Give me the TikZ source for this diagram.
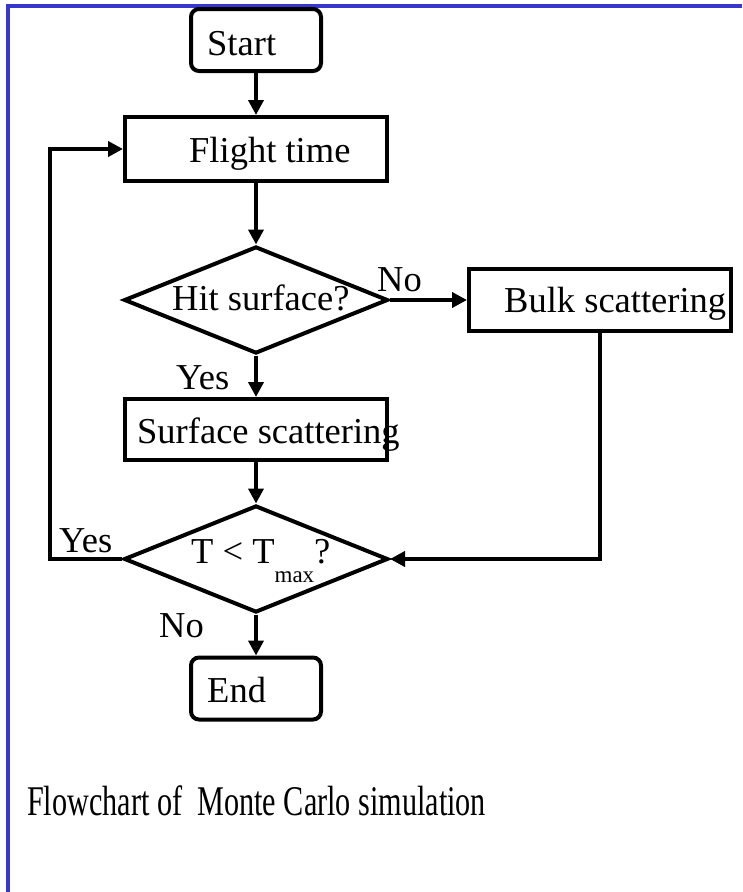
\documentclass[tikz,border=0pt]{standalone}
\usepackage{fontspec}
\setmainfont{Liberation Serif}
\usetikzlibrary{arrows.meta,shapes.geometric}
\definecolor{frameblue}{RGB}{55,55,205}
\tikzset{
  stroke/.style={line width=4pt},
  flowbox/.style={draw, stroke, rectangle, inner sep=0pt},
  termbox/.style={flowbox, rounded corners=8pt, minimum width=130pt, minimum height=62pt},
  procbox/.style={flowbox, minimum width=262pt, minimum height=63pt},
  decide/.style={draw, stroke, diamond, inner sep=0pt, minimum width=264pt, minimum height=107pt},
  lbl/.style={inner sep=0pt, anchor=base west, font=\fontsize{36.5}{40}\selectfont},
  arr/.style={stroke, -{Triangle[length=15pt,width=15pt]}}
}
\begin{document}
\begin{tikzpicture}[x=1pt,y=-1pt]
\useasboundingbox (0,0) rectangle (742,892);

% page frame on the left and top
\draw[line width=4pt, frameblue, line cap=butt, line join=miter]
  (8,892) -- (8,6) -- (742,6);

% shapes
\node[termbox] (start) at (256,40) {};
\node[procbox, minimum height=64pt] (flight) at (256,149) {};
\node[decide] (hit) at (256,300) {};
\node[procbox, minimum height=62pt] (bulk) at (600,300) {};
\node[procbox, minimum height=61pt] (surf) at (256,429.5) {};
\node[decide] (tmax) at (256,559) {};
\node[termbox] (end) at (256,688.5) {};

% texts
\node[lbl] (tstart) at (207,55) {Start};
\node[lbl] (tflight) at (189,162) {Flight time};
\node[lbl] (thit) at (172,310) {Hit surface?};
\node[lbl] (tbulk) at (504,312) {Bulk scattering};
\node[lbl] (tsurf) at (137,443) {Surface scattering};
\node[lbl] (ttmax) at (191,563) {T < T\raisebox{-19pt}{\fontsize{23}{23}\selectfont max}?};
\node[lbl] (tend) at (207,702) {End};
\node[lbl] (no1) at (377,291) {No};
\node[lbl] (yes1) at (176,389) {Yes};
\node[lbl] (yes2) at (59,552) {Yes};
\node[lbl] (no2) at (159,637) {No};
\node[inner sep=0pt, anchor=base west] (caption) at (27,815)
  {\scalebox{1}[1.4]{\fontsize{30.2}{34}\selectfont Flowchart of\ \ Monte Carlo simulation}};

% connectors
\coordinate (back) at (50,559);
\draw[arr] (start) -- (flight);
\draw[arr] (flight) -- (hit);
\draw[arr] (hit.east) -- (bulk.west);
\draw[arr] (hit.south) -- (surf.north);
\draw[arr] (surf) -- (tmax);
\draw[arr] (bulk.south) |- (tmax.east);
\draw[arr] (tmax.west) -- (back) |- (flight.west);
\draw[arr] (tmax.south) -- (end.north);
\end{tikzpicture}
\end{document}
